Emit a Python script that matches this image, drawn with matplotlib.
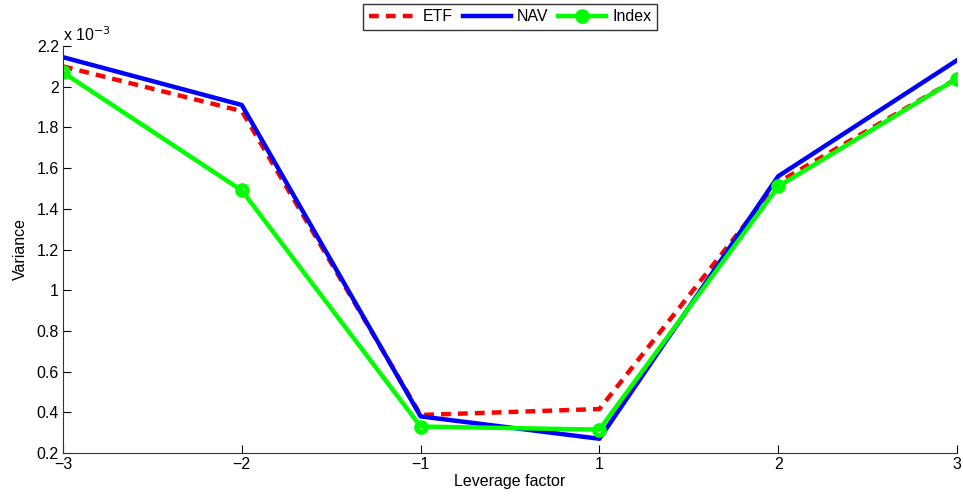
import matplotlib.pyplot as plt
from matplotlib.ticker import FuncFormatter

plt.rcParams['font.family'] = ['Liberation Sans', 'DejaVu Sans']

leverage = ['\u22123', '\u22122', '\u22121', '1', '2', '3']
etf = [2.10, 1.88, 0.387, 0.416, 1.53, 2.04]
nav = [2.145, 1.91, 0.38, 0.27, 1.56, 2.13]
index = [2.07, 1.49, 0.33, 0.315, 1.51, 2.04]

xs = list(range(len(leverage)))
fs = 11.5

fig = plt.figure(figsize=(9.63, 4.96), dpi=100)
ax = fig.add_axes([63/963, 43/496, 894/963, 407/496])

ax.plot(xs, etf, color='red', lw=3.2, ls=(0, (2.2, 1.6)), label='ETF')
ax.plot(xs, nav, color='blue', lw=3.2, label='NAV')
ax.plot(xs, index, color='#00ff00', lw=3.2, marker='o', ms=7, mew=3.5,
        mfc='none', label='Index')

ax.set_xlim(0, 5)
ax.set_ylim(0.2, 2.2)
ax.set_xticks(xs)
ax.set_xticklabels(leverage)
ax.set_yticks([0.2 + 0.2 * i for i in range(11)])
ax.yaxis.set_major_formatter(FuncFormatter(lambda v, p: '%g' % round(v, 1)))
ax.tick_params(direction='in', length=6, labelsize=fs, width=0.8, pad=3)
ax.spines['top'].set_visible(False)
ax.spines['right'].set_visible(False)
for s in ('left', 'bottom'):
    ax.spines[s].set_linewidth(0.8)
    ax.spines[s].set_color('#333333')

ax.set_xlabel('Leverage factor', fontsize=fs, labelpad=1)
ax.set_ylabel('Variance', fontsize=fs, labelpad=6)
ax.text(0, 1.005, r'x 10$^{-3}$', transform=ax.transAxes, fontsize=fs,
        ha='left', va='bottom')

leg = ax.legend(loc='lower center', bbox_to_anchor=(0.5, 1.04), ncol=3,
                frameon=True, fancybox=False, edgecolor='black',
                fontsize=fs, handlelength=3.0, columnspacing=0.6,
                handletextpad=0.4, borderpad=0.35, borderaxespad=0)
leg.get_frame().set_linewidth(1.0)
# solid dot in the legend entry
leg.legend_handles[2].set_markerfacecolor('#00ff00')

fig.savefig('out.png', dpi=100)
